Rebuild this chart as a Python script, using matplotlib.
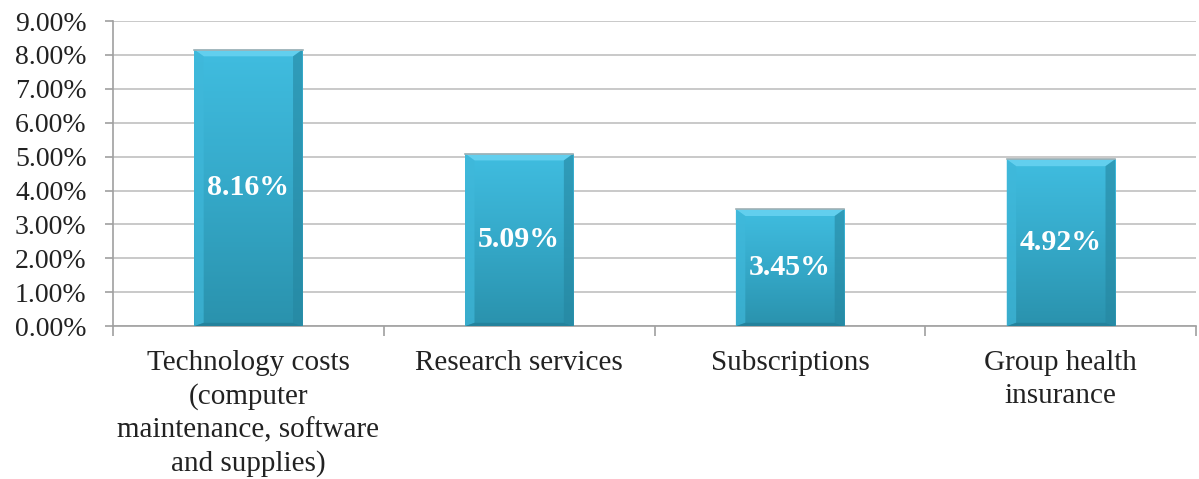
import matplotlib
matplotlib.use("Agg")
import matplotlib.pyplot as plt
import numpy as np
from matplotlib.colors import LinearSegmentedColormap
from matplotlib.ticker import FuncFormatter, MultipleLocator

categories = ["Technology costs\n(computer\nmaintenance, software\nand supplies)",
              "Research services", "Subscriptions", "Group health\ninsurance"]
values = [8.16, 5.09, 3.45, 4.92]
value_labels = ["8.16%", "5.09%", "3.45%", "4.92%"]

plt.rcParams['font.family'] = ['Liberation Serif', 'DejaVu Serif']

fig = plt.figure(figsize=(11.99, 4.79), dpi=100)
ax = fig.add_axes([0.0942, 0.319, 0.9035, 0.637])

x = np.arange(len(categories))
bars = ax.bar(x, values, width=0.4, color="#36aed0", edgecolor="none", zorder=2)

cmap = LinearSegmentedColormap.from_list("g", ["#2a92ad", "#35a9c9", "#40bde0"])
grad = np.linspace(0, 1, 256).reshape(-1, 1)
for b in bars:
    x0, w, h = b.get_x(), b.get_width(), b.get_height()
    im = ax.imshow(grad, extent=[x0, x0 + w, 0, h], origin="lower", cmap=cmap,
                   aspect="auto", zorder=3)
    im.set_clip_path(b)
    bw = 0.035
    ax.fill([x0, x0 + w, x0 + w - bw, x0 + bw], [h, h, h - 0.2, h - 0.2],
            color="#62cfee", zorder=4, lw=0)
    ax.fill([x0 + w, x0 + w, x0 + w - bw, x0 + w - bw], [h, 0, 0.1, h - 0.2],
            color="#2586a0", alpha=0.6, zorder=4, lw=0)
    ax.fill([x0, x0, x0 + bw, x0 + bw], [h, 0, 0.1, h - 0.2],
            color="#3fb8da", alpha=0.7, zorder=4, lw=0)
    ax.fill([x0, x0 + w, x0 + w - bw, x0 + bw], [0, 0, 0.1, 0.1],
            color="#237f98", alpha=0.8, zorder=4, lw=0)
    ax.plot([x0, x0 + w], [h, h], color="#a0b0b4", lw=1.2, zorder=5)

for xi, v, lab in zip(x, values, value_labels):
    ax.text(xi, v / 2, lab, ha="center", va="center", color="white",
            fontsize=21.5, fontweight="bold", zorder=6)

ax.set_xlim(-0.5, len(categories) - 0.5)
ax.set_ylim(0, 9)
ax.yaxis.set_major_locator(MultipleLocator(1))
ax.yaxis.set_major_formatter(FuncFormatter(lambda v, p: f"{v:.2f}%"))
ax.grid(axis="y", color="#c0c0c0", lw=1.2, zorder=0)
ax.set_axisbelow(True)

ax.set_xticks(x)
ax.set_xticklabels(categories, fontsize=21, linespacing=1.35, color="#222222", va="top")
ax.set_xticks(np.arange(-0.5, len(categories)), minor=True)
ax.tick_params(axis="x", which="major", length=0, pad=17)
ax.tick_params(axis="x", which="minor", length=7, color="#a0a0a0", width=1.2)
ax.tick_params(axis="y", labelsize=20, length=6, color="#a0a0a0", width=1.2,
               labelcolor="#222222", pad=13)

for s in ["top", "right"]:
    ax.spines[s].set_visible(False)
for s in ["left", "bottom"]:
    ax.spines[s].set_color("#a0a0a0")
    ax.spines[s].set_linewidth(1.2)

fig.savefig("out.png", dpi=100)
